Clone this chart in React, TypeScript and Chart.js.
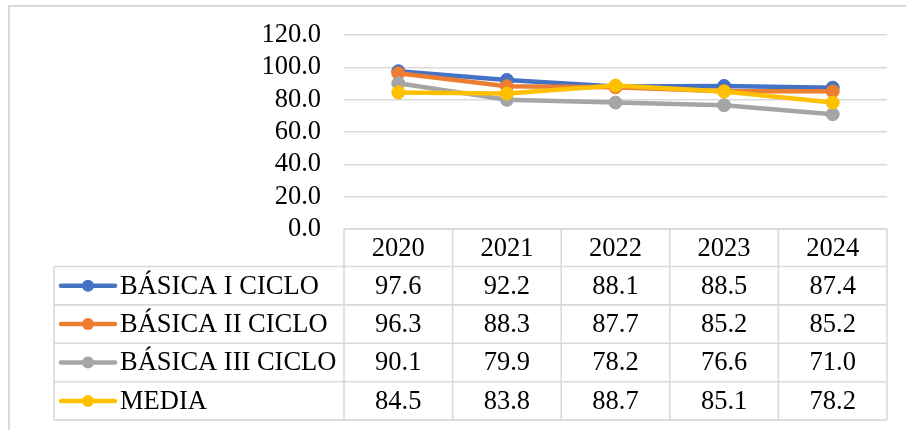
import React, { useEffect, useRef } from "react";
import { Chart, registerables } from "chart.js";

Chart.register(...registerables);

const years = ["2020", "2021", "2022", "2023", "2024"];
const seriesNames = ["BÁSICA I CICLO", "BÁSICA II CICLO", "BÁSICA III CICLO", "MEDIA"];
const basicaI = [97.6, 92.2, 88.1, 88.5, 87.4];
const basicaII = [96.3, 88.3, 87.7, 85.2, 85.2];
const basicaIII = [90.1, 79.9, 78.2, 76.6, 71.0];
const media = [84.5, 83.8, 88.7, 85.1, 78.2];
const seriesColors = ["#4472C4", "#ED7D31", "#A5A5A5", "#FFC000"];
const yTicks = [0, 20, 40, 60, 80, 100, 120];

const FONT = "'Liberation Serif', 'Times New Roman', serif";
const GRID = "#d9d9d9";

const tablePlugin = {
  id: "dataTable",
  afterDraw(chart: any) {
    const ctx = chart.ctx as CanvasRenderingContext2D;
    const x = chart.scales.x;
    const area = chart.chartArea;
    const n = years.length;
    const colW = (area.right - area.left) / n;
    const headerH = 37.5;
    const rowH = 38.4;
    const top = area.bottom;
    const legendLeft = 54;
    const allData = chart.data.datasets.map((d: any) => d.data as number[]);

    ctx.save();
    ctx.strokeStyle = GRID;
    ctx.lineWidth = 1.6;
    const bottom = top + headerH + rowH * seriesNames.length;
    ctx.beginPath();
    ctx.moveTo(area.left, top);
    ctx.lineTo(area.right, top);
    for (let r = 0; r <= seriesNames.length; r++) {
      const y = top + headerH + r * rowH;
      ctx.moveTo(legendLeft, y);
      ctx.lineTo(area.right, y);
    }
    for (let c = 0; c <= n; c++) {
      const xp = area.left + c * colW;
      ctx.moveTo(xp, top);
      ctx.lineTo(xp, bottom);
    }
    ctx.moveTo(legendLeft, top + headerH);
    ctx.lineTo(legendLeft, bottom);
    ctx.stroke();

    ctx.fillStyle = "#000";
    ctx.font = `26.5px ${FONT}`;
    ctx.textAlign = "center";
    ctx.textBaseline = "middle";
    for (let c = 0; c < n; c++) {
      const cx = x.getPixelForTick(c);
      ctx.fillText(years[c], cx, top + headerH / 2 + 1);
      for (let r = 0; r < seriesNames.length; r++) {
        const cy = top + headerH + r * rowH + rowH / 2 + 1;
        ctx.fillText(allData[r][c].toFixed(1), cx, cy);
      }
    }
    ctx.textAlign = "left";
    for (let r = 0; r < seriesNames.length; r++) {
      const cy = top + headerH + r * rowH + rowH / 2;
      ctx.strokeStyle = seriesColors[r];
      ctx.lineWidth = 4.5;
      ctx.lineCap = "round";
      ctx.beginPath();
      ctx.moveTo(61, cy);
      ctx.lineTo(115, cy);
      ctx.stroke();
      ctx.fillStyle = seriesColors[r];
      ctx.beginPath();
      ctx.arc(88, cy, 6, 0, Math.PI * 2);
      ctx.fill();
      ctx.fillStyle = "#000";
      ctx.fillText(seriesNames[r], 120, cy + 1);
    }
    ctx.strokeStyle = GRID;
    ctx.lineWidth = 2;
    ctx.beginPath();
    ctx.moveTo(9, chart.height);
    ctx.lineTo(9, 6);
    ctx.lineTo(chart.width, 6);
    ctx.stroke();
    ctx.restore();
  },
};

export default function App() {
  const ref = useRef<HTMLCanvasElement | null>(null);
  useEffect(() => {
    if (!ref.current) return;
    const allSeries = [basicaI, basicaII, basicaIII, media];
    const chart = new Chart(ref.current, {
      type: "line",
      data: {
        labels: years,
        datasets: allSeries.map((data, i) => ({
          label: seriesNames[i],
          data,
          borderColor: seriesColors[i],
          backgroundColor: seriesColors[i],
          borderWidth: 4.5,
          pointRadius: 6.5,
          pointBorderWidth: 1,
          pointBackgroundColor: seriesColors[i],
          pointBorderColor: seriesColors[i],
          order: allSeries.length - i,
          tension: 0,
        })),
      },
      options: {
        responsive: false,
        animation: false,
        layout: { padding: { left: 263, right: 19, top: 35, bottom: 201 } },
        plugins: { legend: { display: false }, tooltip: { enabled: false } },
        scales: {
          x: { type: "category", display: false, offset: true },
          y: {
            min: 0,
            max: 120,
            afterBuildTicks: (axis: any) => {
              axis.ticks = yTicks.map((v) => ({ value: v }));
            },
            afterFit: (axis: any) => {
              axis.width = 81;
              axis.paddingTop = 0;
              axis.paddingBottom = 0;
            },
            border: { display: false },
            grid: { color: GRID, lineWidth: 1.6, drawTicks: false },
            ticks: {
              autoSkip: false,
              padding: 23,
              color: "#000",
              font: { family: FONT, size: 26.5 },
              callback: (v: any) => Number(v).toFixed(1),
            },
          },
        },
      },
      plugins: [tablePlugin],
    });
    return () => chart.destroy();
  }, []);
  return (
    <div style={{ position: "fixed", left: 0, top: 0, width: 906, height: 430, background: "#fff" }}>
      <canvas ref={ref} width={906} height={430} />
    </div>
  );
}
